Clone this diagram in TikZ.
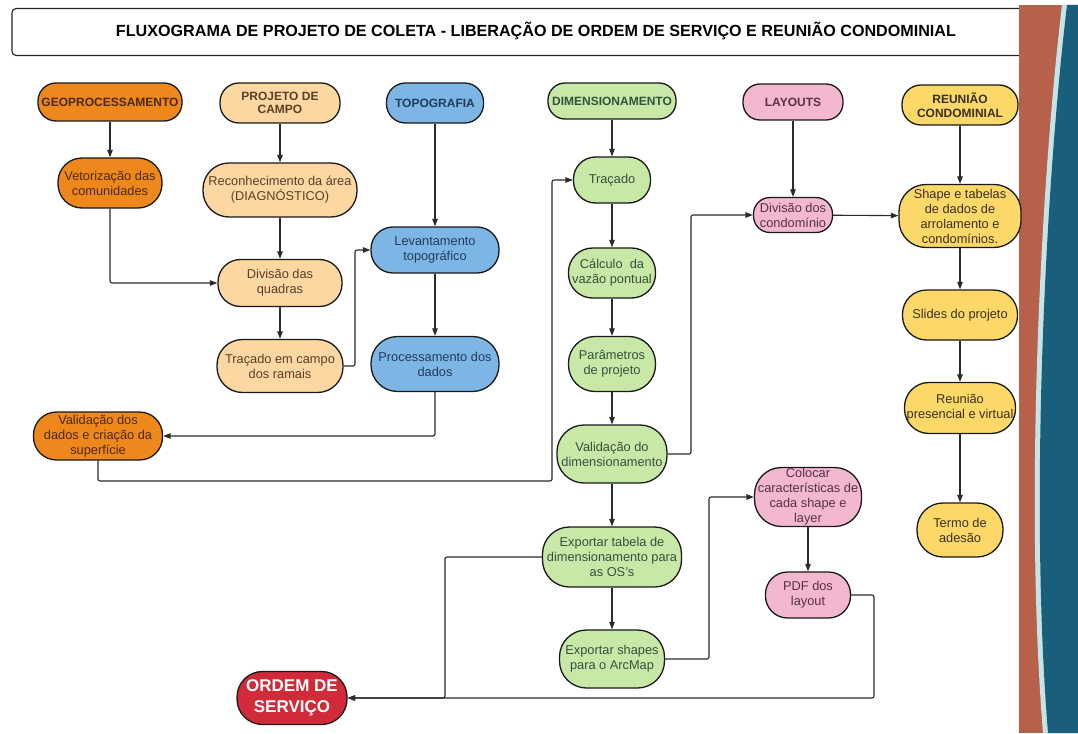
\documentclass[tikz,border=0pt]{standalone}
\usepackage{fontspec}
\setmainfont{Liberation Sans}
\usetikzlibrary{arrows.meta}
\definecolor{orgD}{HTML}{EF881C}
\definecolor{orgT}{HTML}{4A2A10}
\definecolor{peach}{HTML}{FDD7A2}
\definecolor{peachT}{HTML}{5A3E28}
\definecolor{blueN}{HTML}{7DB5E5}
\definecolor{blueT}{HTML}{223C5C}
\definecolor{greenN}{HTML}{C8E8A8}
\definecolor{greenT}{HTML}{34523A}
\definecolor{pinkN}{HTML}{F3B7CF}
\definecolor{pinkT}{HTML}{583048}
\definecolor{yellowN}{HTML}{FCD869}
\definecolor{yellowT}{HTML}{3A3020}
\definecolor{redN}{HTML}{D12B3A}
\definecolor{brownB}{HTML}{B8614A}
\definecolor{tealB}{HTML}{195F7B}
\definecolor{stripeB}{HTML}{C5E4E8}
\definecolor{lineC}{HTML}{2B2B2B}
\begin{document}
\begin{tikzpicture}[x=1pt,y=-1pt,
  box/.style={draw=black!90, line width=1.3pt, align=center, inner sep=0pt,
    font=\fontsize{12.8}{15}\selectfont},
  hdr/.style={box, font=\fontsize{12}{13.5}\selectfont\bfseries},
  sz/.style 2 args={minimum width=#1pt, minimum height=#2pt, rounded corners={min(#2/2-1,27)*1pt}},
  geoS/.style={fill=orgD, text=orgT},
  campoS/.style={fill=peach, text=peachT},
  topoS/.style={fill=blueN, text=blueT},
  dimS/.style={fill=greenN, text=greenT},
  layS/.style={fill=pinkN, text=pinkT},
  reuS/.style={fill=yellowN, text=yellowT},
  arr/.style={draw=lineC, line width=1.1pt, rounded corners=2pt, -{Triangle[length=7.5pt,width=5.5pt]}},
]
\useasboundingbox (0,0) rectangle (1078,733);
\fill[white] (0,0) rectangle (1078,733);

% title
\node (titlebox) [draw=black!85, line width=1.1pt, rounded corners=4pt, minimum width=1020pt, minimum height=47pt] at (522,32) {};
\node (titletext) at (536,31) {\resizebox{840pt}{!}{\fontsize{14}{16}\selectfont\bfseries FLUXOGRAMA DE PROJETO DE COLETA - LIBERAÇÃO DE ORDEM DE SERVIÇO E REUNIÃO CONDOMINIAL}};

% right band
\fill[brownB] (1019,5) rectangle (1078,733);
\fill[stripeB] (1062,5) .. controls (1041,180) and (1024,500) .. (1043,733) -- (1078,733) -- (1078,5) -- cycle;
\fill[tealB] (1067,5) .. controls (1046,180) and (1029,500) .. (1048,733) -- (1078,733) -- (1078,5) -- cycle;

% headers
\node (geo) [hdr, geoS, sz={144}{38}] at (110,102) {GEOPROCESSAMENTO};
\node (pcampo) [hdr, campoS, sz={120}{40}] at (280,103) {PROJETO DE\\CAMPO};
\node (topo) [hdr, topoS, sz={97}{40}] at (435,103) {TOPOGRAFIA};
\node (dimen) [hdr, dimS, sz={128}{36}] at (612,101) {DIMENSIONAMENTO};
\node (layouts) [hdr, layS, sz={100}{36}] at (793,102) {LAYOUTS};
\node (reuniao) [hdr, reuS, sz={116}{40}] at (960,105) {REUNIÃO\\CONDOMINIAL};

% geoprocessamento
\node (vetor) [box, geoS, sz={104}{50}] at (110,183) {Vetorização das\\comunidades};
\node (valdados) [box, geoS, sz={129}{48}] at (98,436) {Validação dos\\dados e criação da\\superfície};

% projeto de campo
\node (recon) [box, campoS, sz={154}{54}] at (280,190) {Reconhecimento da área\\(DIAGNÓSTICO)};
\node (divq) [box, campoS, sz={124}{47}] at (280,283) {Divisão das\\quadras};
\node (tracampo) [box, campoS, sz={126}{53}] at (280,366) {Traçado em campo\\dos ramais};

% topografia
\node (levant) [box, topoS, sz={128}{46}] at (435,250) {Levantamento\\topográfico};
\node (proc) [box, topoS, sz={128}{55}] at (435,364) {Processamento dos\\dados};

% dimensionamento
\node (tracado) [box, dimS, sz={77}{46}] at (612,180) {Traçado};
\node (calc) [box, dimS, sz={87}{50}] at (612,273) {Cálculo \ da\\vazão pontual};
\node (param) [box, dimS, sz={87}{55}] at (612,364) {Parâmetros\\de projeto};
\node (valdim) [box, dimS, sz={110}{58}] at (612,454) {Validação do\\dimensionamento};
\node (exptab) [box, dimS, sz={139}{60}] at (612,557) {Exportar tabela de\\dimensionamento para\\as OS{\char"27}s};
\node (expshp) [box, dimS, sz={105}{58}] at (612,659) {Exportar shapes\\para o ArcMap};

% layouts
\node (divcond) [box, layS, sz={79}{35}] at (793,215) {Divisão dos\\condomínio};
\node (colocar) [box, layS, sz={107}{59}] at (808,497) {Colocar\\características de\\cada shape e\\layer};
\node (pdf) [box, layS, sz={85}{46}] at (808,595) {PDF dos\\layout};

% reuniao
\node (shape) [box, reuS, sz={122}{63}] at (960,216) {Shape e tabelas\\de dados de\\arrolamento e\\condomínios.};
\node (slides) [box, reuS, sz={115}{50}] at (960,315) {Slides do projeto};
\node (reupres) [box, reuS, sz={111}{51}] at (960,408) {Reunião\\presencial e virtual};
\node (termo) [box, reuS, sz={86}{54}] at (960,530) {Termo de\\adesão};

% ordem de servico
\node (ordem) [box, fill=redN, text=white, sz={110}{53}, font=\fontsize{17}{21}\selectfont\bfseries] at (292,698) {ORDEM DE\\SERVIÇO};

% junction coordinates
\coordinate (c1) at (355,250);
\coordinate (c2) at (552,481);
\coordinate (c3) at (691,454);
\coordinate (c4) at (445,698);
\coordinate (c5) at (709,497);
\coordinate (c6) at (874,698);

% connectors
\draw[arr] (geo) -- (vetor);
\draw[arr] (pcampo) -- (recon);
\draw[arr] (recon) -- (divq);
\draw[arr] (vetor.south) |- (divq.west);
\draw[arr] (divq) -- (tracampo);
\draw[arr] (tracampo.east) -| (c1) -- (levant.west);
\draw[arr] (topo) -- (levant);
\draw[arr] (levant) -- (proc);
\draw[arr] (proc.south) |- (valdados.east);
\draw[arr] (valdados.south) |- (c2) |- (tracado.west);
\draw[arr] (dimen) -- (tracado);
\draw[arr] (tracado) -- (calc);
\draw[arr] (calc) -- (param);
\draw[arr] (param) -- (valdim);
\draw[arr] (valdim) -- (exptab);
\draw[arr] (exptab) -- (expshp);
\draw[arr] (valdim.east) -- (c3) |- (divcond.west);
\draw[arr] (layouts) -- (divcond);
\draw[arr] (divcond) -- (shape);
\draw[arr] (reuniao) -- (shape);
\draw[arr] (shape) -- (slides);
\draw[arr] (slides) -- (reupres);
\draw[arr] (reupres) -- (termo);
\draw[arr] (exptab.west) -| (c4) -- (ordem.east);
\draw[arr] (expshp.east) -| (c5) -- (colocar.west);
\draw[arr] (colocar) -- (pdf);
\draw[arr] (pdf.east) -| (c6) -- (ordem.east);
\end{tikzpicture}
\end{document}
